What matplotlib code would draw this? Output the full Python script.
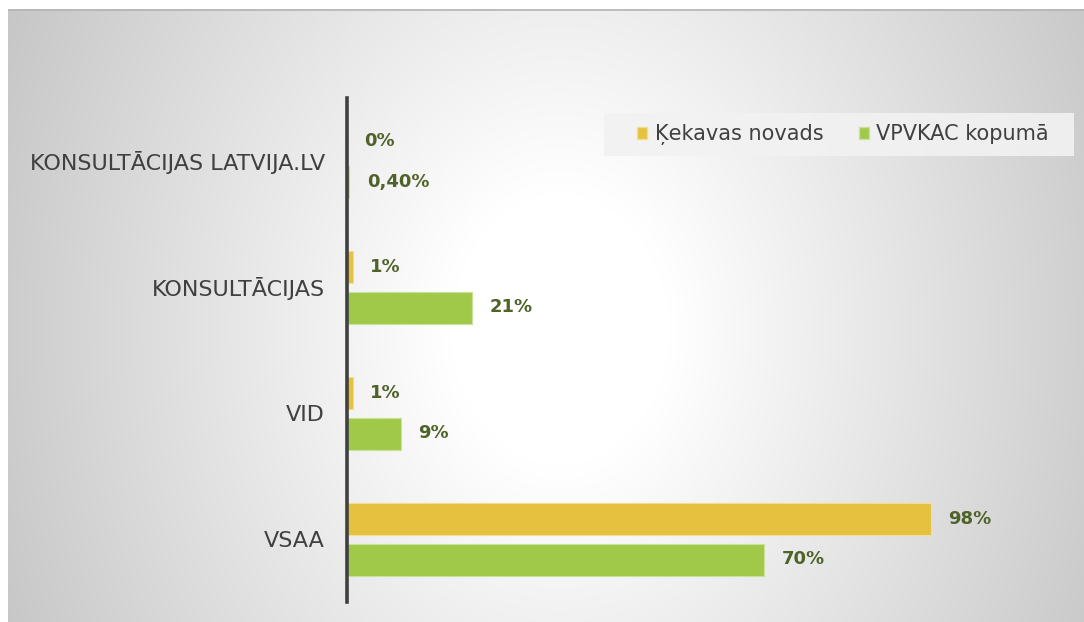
import numpy as np
import matplotlib
matplotlib.use("Agg")
import matplotlib.pyplot as plt
from matplotlib.patches import Patch, Rectangle

# ---- data ----
categories = ["KONSULTĀCIJAS LATVIJA.LV", "KONSULTĀCIJAS", "VID", "VSAA"]
kekava_vals = [0, 1, 1, 98]
vpvkac_vals = [0.4, 21, 9, 70]
kekava_labels = ["0%", "1%", "1%", "98%"]
vpvkac_labels = ["0,40%", "21%", "9%", "70%"]
series_names = ["Ķekavas novads", "VPVKAC kopumā"]

W, H = 1084, 622
fig = plt.figure(figsize=(W / 100, H / 100), dpi=100)
fig.patch.set_facecolor("white")

# ---- background radial gradient ----
bx0, by_top = 8, 9
bg = fig.add_axes([bx0 / W, 0, (W - bx0) / W, (H - by_top) / H])
xs = np.linspace(bx0, W, 400)
ys = np.linspace(by_top, H, 250)
X, Y = np.meshgrid(xs, ys)
cx, cy, rx, ry = 560, 330, 550, 690
r = np.sqrt(((X - cx) / rx) ** 2 + ((Y - cy) / ry) ** 2)
t = np.clip((r - 0.2) / 0.9, 0, 1.2)
val = np.clip(1 - 0.22 * t, 0, 1)
img = np.dstack([val, val, val])
bg.imshow(img, aspect="auto", extent=[0, 1, 0, 1], origin="upper", interpolation="bilinear")
bg.set_xlim(0, 1)
bg.set_ylim(0, 1)
bg.axis("off")
bg.plot([0, 1], [0.998, 0.998], color="#b4b4b4", lw=1.2, transform=bg.transAxes)

# ---- main axes ----
ax_left, ax_top, ax_bottom = 347, 98, 602
xmax = 120
px_per_unit = 5.96
ax_w = xmax * px_per_unit
ax = fig.add_axes([ax_left / W, (H - ax_bottom) / H, ax_w / W, (ax_bottom - ax_top) / H])
ax.patch.set_alpha(0)

ypos = np.arange(len(categories))
bh = 32 / 126
off = 20.5 / 126
yellow = "#e6c13f"
green = "#a0c94a"
label_color = "#4f6228"

ax.barh(ypos - off, kekava_vals, height=bh, color=yellow, edgecolor="#f1de8e", linewidth=0.8)
ax.barh(ypos + off, vpvkac_vals, height=bh, color=green, edgecolor="#c9e29a", linewidth=0.8)

for i in range(len(categories)):
    ax.annotate(kekava_labels[i], (kekava_vals[i], ypos[i] - off), xytext=(12.5, 0),
                textcoords="offset points", va="center", ha="left",
                fontsize=13, fontweight="bold", color=label_color)
    ax.annotate(vpvkac_labels[i], (vpvkac_vals[i], ypos[i] + off), xytext=(12.5, 0),
                textcoords="offset points", va="center", ha="left",
                fontsize=13, fontweight="bold", color=label_color)

ax.set_xlim(0, xmax)
ax.set_ylim(len(categories) - 0.5, -0.5)
ax.set_yticks(ypos)
ax.set_yticklabels(categories, fontsize=16, color="#404040")
ax.tick_params(axis="y", length=0, pad=16)
ax.set_xticks([])
for s in ["top", "right", "bottom"]:
    ax.spines[s].set_visible(False)
ax.spines["left"].set_color("#404040")
ax.spines["left"].set_linewidth(2.6)

# ---- legend ----
fig.patches.append(Rectangle((604 / W, (H - 156) / H), 470 / W, 43 / H,
                             transform=fig.transFigure, facecolor="#f2f2f2",
                             edgecolor="none", alpha=0.9, zorder=1))
handles = [Patch(facecolor=yellow, edgecolor="#f1de8e"), Patch(facecolor=green, edgecolor="#c9e29a")]
leg = fig.legend(handles, series_names, loc="center",
                 bbox_to_anchor=(843 / W, (H - 134.5) / H),
                 ncol=2, fontsize=15, frameon=False,
                 handlelength=0.5, handleheight=0.5, handletextpad=0.35,
                 columnspacing=1.7, borderpad=0.2)
for t_ in leg.get_texts():
    t_.set_color("#404040")

fig.savefig("out.png", dpi=100)
